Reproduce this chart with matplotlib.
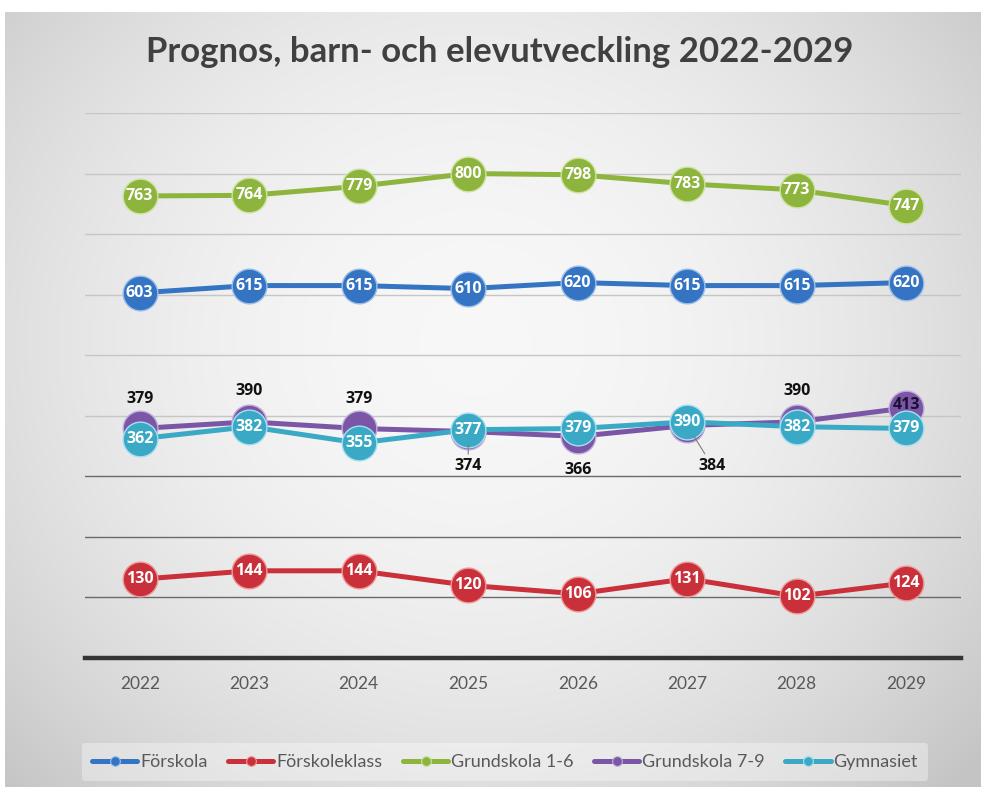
import numpy as np
import matplotlib
matplotlib.use("Agg")
import matplotlib.pyplot as plt

# ---- data ----
years = ["2022", "2023", "2024", "2025", "2026", "2027", "2028", "2029"]
forskola = [603, 615, 615, 610, 620, 615, 615, 620]
forskoleklass = [130, 144, 144, 120, 106, 131, 102, 124]
grund_1_6 = [763, 764, 779, 800, 798, 783, 773, 747]
grund_7_9 = [379, 390, 379, 374, 366, 384, 390, 413]
gymnasiet = [362, 382, 355, 377, 379, 390, 382, 379]
series_names = ["Förskola", "Förskoleklass", "Grundskola 1-6", "Grundskola 7-9", "Gymnasiet"]
title = "Prognos, barn- och elevutveckling 2022-2029"

# ---- styles ----
colors = ["#3474c2", "#c9303a", "#8db43c", "#7b55a6", "#3aa9c6"]
edge_colors = ["#9cc0ea", "#ef9a9a", "#cde3a0", "#c2aedc", "#a8def0"]
# label placement for Grundskola 7-9 (offset in points)
p79_offsets = [(0, 21), (0, 22), (0, 21), (0, -25), (0, -24), (18, -29), (0, 22), (0, 0)]
p79_leader = [False, False, False, True, False, True, False, False]

W, H = 981, 787
fig = plt.figure(figsize=(W / 100, H / 100), dpi=100)
fig.patch.set_facecolor("white")

# background gradient panel
bg = fig.add_axes([5 / W, 0, 1 - 5 / W, 1 - 12 / H])
yy, xx = np.mgrid[0:200, 0:250]
cx, cy = 120, 85
d = np.sqrt(((xx - cx) / 150.0) ** 2 + ((yy - cy) / 140.0) ** 2)
val = 0.97 - 0.15 * d ** 2
val = np.clip(val, 0.77, 0.975)
bg.imshow(np.dstack([val, val, val]), aspect="auto", extent=[0, 1, 0, 1],
          interpolation="bicubic")
bg.set_axis_off()
bg.set_zorder(-10)

ax = fig.add_axes([85 / W, 1 - 658 / H, (961 - 85) / W, (658 - 113) / H])
ax.patch.set_alpha(0)
x = np.arange(len(years))
ax.set_xlim(-0.5, len(years) - 0.5)
ax.set_ylim(0, 900)
ax.set_yticks(np.arange(100, 901, 100))
ax.yaxis.grid(True, lw=1.0)
for i, gl in enumerate(ax.get_ygridlines()):
    gl.set_color("#6a6a6a" if i < 3 else "#c6c6c6")
ax.tick_params(axis="y", left=False, labelleft=False)
ax.set_axisbelow(True)
for s in ["left", "right", "top"]:
    ax.spines[s].set_visible(False)
ax.spines["bottom"].set_color("#353535")
ax.spines["bottom"].set_linewidth(3.2)
ax.set_xticks(x)
ax.set_xticklabels(years, fontsize=12.5, color="#595959", family="Lato")
ax.tick_params(axis="x", length=0, pad=13)

all_series = [forskola, forskoleklass, grund_1_6, grund_7_9, gymnasiet]
for k, (name, vals) in enumerate(zip(series_names, all_series)):
    ax.plot(x, vals, color=colors[k], lw=3.6, marker="o", markersize=25,
            markerfacecolor=colors[k], markeredgecolor=edge_colors[k],
            markeredgewidth=1.0, label=name, zorder=3 + k, solid_capstyle="round")

lab_font = dict(family="Open Sans", fontweight="bold", fontsize=11.5)
for k, vals in enumerate(all_series):
    for i, v in enumerate(vals):
        if k == 3:
            off = p79_offsets[i]
            if off == (0, 0):
                ax.annotate(str(v), (x[i], v), xytext=(0, 2), textcoords="offset points",
                            ha="center", va="center", color="#1a1030", zorder=20, **lab_font)
            elif p79_leader[i]:
                ax.annotate(str(v), (x[i], v), xytext=off, textcoords="offset points",
                            ha="center", va="center", color="#111111", zorder=20,
                            arrowprops=dict(arrowstyle="-", color="#808080", lw=0.8,
                                            shrinkA=1, shrinkB=9), **lab_font)
            else:
                ax.annotate(str(v), (x[i], v), xytext=off, textcoords="offset points",
                            ha="center", va="center", color="#111111", zorder=20, **lab_font)
        else:
            ax.annotate(str(v), (x[i], v), xytext=(0, 0), textcoords="offset points",
                        ha="center", va="center", color="white", zorder=10 + k, **lab_font)

fig.text(500 / W, 1 - 52 / H, title, ha="center", va="center", fontsize=25,
         fontweight="bold", color="#404040", family="Lato")

leg = fig.legend(loc="center", bbox_to_anchor=(505 / W, 1 - 762 / H), ncol=5,
                 frameon=True, facecolor="white", edgecolor="none", framealpha=0.35,
                 prop=dict(family="Lato", size=13), handlelength=2.5,
                 handletextpad=0.15, columnspacing=1.15, borderpad=0.6)
for h in leg.legend_handles:
    h.set_markersize(7)
    h.set_linewidth(3.6)
    h.set_markeredgewidth(0.8)
for t in leg.get_texts():
    t.set_color("#595959")

fig.savefig("out.png", dpi=100)
